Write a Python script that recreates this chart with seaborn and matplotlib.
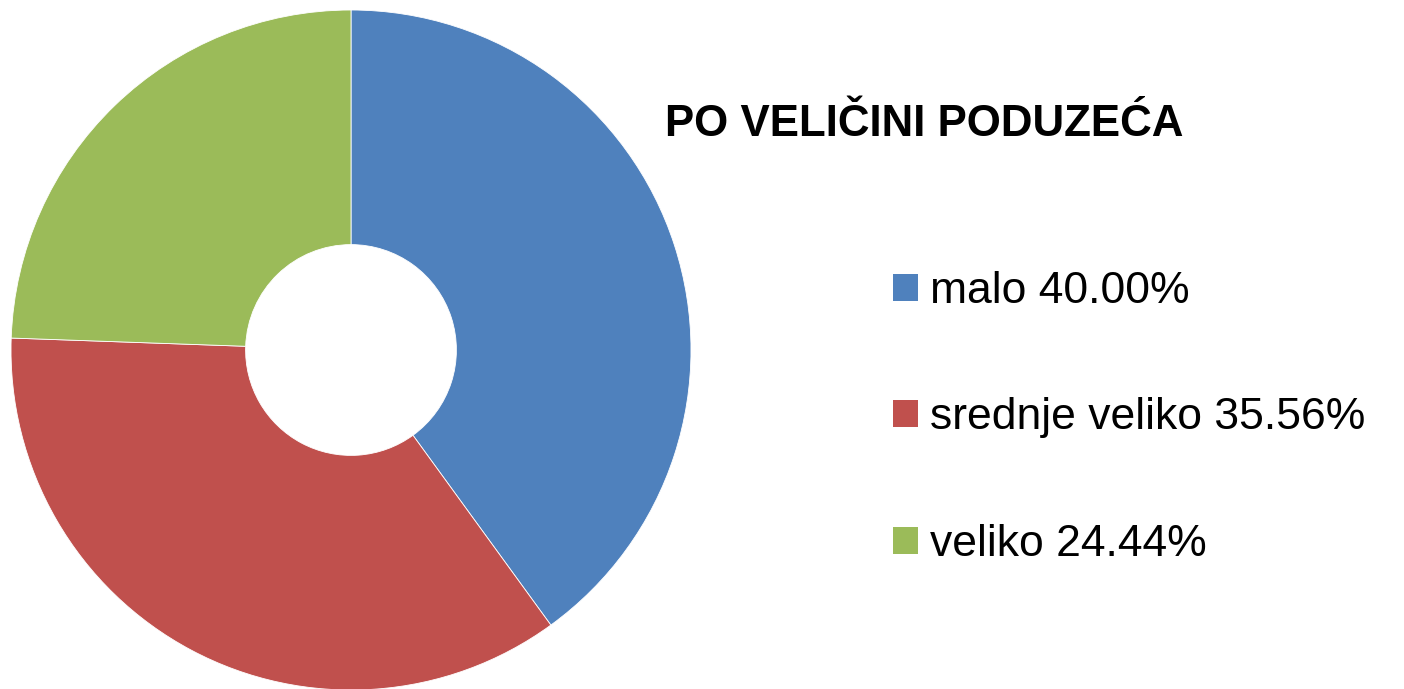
import matplotlib
matplotlib.use('Agg')
import matplotlib.pyplot as plt
import seaborn as sns

# podaci
categories = ['malo', 'srednje veliko', 'veliko']
shares = [40.00, 35.56, 24.44]
colors = ['#4F81BD', '#C0504D', '#9BBB59']
title = 'PO VELIČINI PODUZEĆA'

sns.set_theme(style='white')
plt.rcParams['font.family'] = ['Liberation Sans', 'DejaVu Sans']
plt.rcParams['text.color'] = 'black'

fig = plt.figure(figsize=(14.04, 6.89), dpi=100)
ax = fig.add_axes([11 / 1404, -1 / 689, 680 / 1404, 680 / 689])

wedges, _ = ax.pie(shares, colors=colors, startangle=90, counterclock=False,
                   radius=1.0, wedgeprops=dict(width=0.69, edgecolor='white', linewidth=0.6))
ax.set_xlim(-1, 1)
ax.set_ylim(-1, 1)
ax.set_aspect('equal')
ax.axis('off')

labels = [f'{c} {v:.2f}%' for c, v in zip(categories, shares)]
leg = ax.legend(wedges, labels, loc='center left',
                bbox_to_anchor=(893 / 1404, 1 - 418 / 689), bbox_transform=fig.transFigure,
                frameon=False, fontsize=32, handlelength=0.56, handleheight=0.56,
                handletextpad=0.27, labelspacing=1.92, borderpad=0, borderaxespad=0,
                labelcolor='black')
for h in leg.legend_handles:
    h.set_edgecolor('none')

fig.text(665 / 1404, 1 - 125 / 689, title, fontsize=31.6, fontweight='bold',
         ha='left', va='center', color='black')

fig.savefig('out.png', dpi=100)
